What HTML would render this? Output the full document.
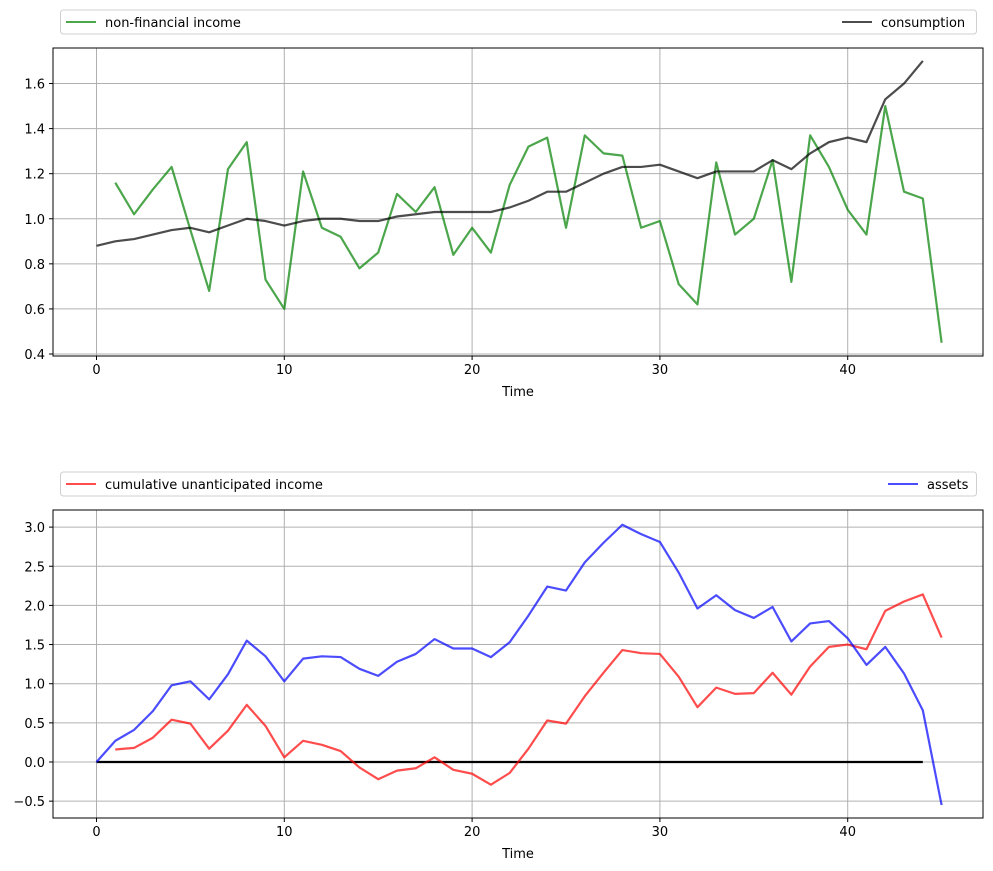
<!DOCTYPE html>
<html><head><meta charset="utf-8"><style>body{margin:0;background:#fff}svg{display:block}text{font-family:"DejaVu Sans","Liberation Sans",sans-serif;font-size:13px;fill:#000}</style></head>
<body>
<svg id="s" width="993" height="871" xmlns="http://www.w3.org/2000/svg"></svg>
<script>
const s=document.getElementById('s');let h='';
const X=t=>96.5+t*18.78;
function panel(top,bot,y0,yk,ys,ticks,fmt,series,leg,ly){
 const Y=v=>y0-v*yk;
 h+=`<g stroke="#b0b0b0" stroke-width="1">`;
 for(let t=0;t<=40;t+=10)h+=`<line x1="${X(t)}" y1="${top}" x2="${X(t)}" y2="${bot}"/>`;
 for(const v of ticks)h+=`<line x1="53" y1="${Y(v)}" x2="983" y2="${Y(v)}"/>`;
 h+=`</g>`;
 for(const sr of series){h+=`<polyline fill="none" stroke="${sr.c}" stroke-opacity="${sr.o}" stroke-width="2.2" stroke-linejoin="round" points="${sr.d.map((v,i)=>X(i+sr.s)+','+Y(v)).join(' ')}"/>`;}
 h+=`<rect x="53" y="${top}" width="930" height="${bot-top}" fill="none" stroke="#000" stroke-width="1"/>`;
 for(let t=0;t<=40;t+=10){h+=`<line x1="${X(t)}" y1="${bot}" x2="${X(t)}" y2="${bot+4}" stroke="#000"/><text x="${X(t)}" y="${bot+18}" text-anchor="middle">${t}</text>`;}
 for(const v of ticks){h+=`<line x1="49" y1="${Y(v)}" x2="53" y2="${Y(v)}" stroke="#000"/><text x="45" y="${Y(v)+5}" text-anchor="end">${fmt(v)}</text>`;}
 h+=`<text x="518" y="${bot+40}" text-anchor="middle">Time</text>`;
 h+=`<rect x="60.5" y="${ly}" width="916" height="24" rx="3" fill="#fff" stroke="#d0d0d0"/>`;
 h+=`<line x1="66" y1="${ly+12}" x2="96" y2="${ly+12}" stroke="${leg[0][1]}" stroke-opacity="0.7" stroke-width="2"/><text x="105" y="${ly+17}">${leg[0][0]}</text>`;
 h+=`<line x1="${leg[1][2]-39}" y1="${ly+12}" x2="${leg[1][2]-9}" y2="${ly+12}" stroke="${leg[1][1]}" stroke-opacity="0.7" stroke-width="2"/><text x="${leg[1][2]}" y="${ly+17}">${leg[1][0]}</text>`;
}
const inc=[1.16,1.02,1.13,1.23,0.95,0.68,1.22,1.34,0.73,0.60,1.21,0.96,0.92,0.78,0.85,1.11,1.03,1.14,0.84,0.96,0.85,1.15,1.32,1.36,0.96,1.37,1.29,1.28,0.96,0.99,0.71,0.62,1.25,0.93,1.00,1.26,0.72,1.37,1.23,1.04,0.93,1.50,1.12,1.09,0.45];
const con=[0.88,0.90,0.91,0.93,0.95,0.96,0.94,0.97,1.00,0.99,0.97,0.99,1.00,1.00,0.99,0.99,1.01,1.02,1.03,1.03,1.03,1.03,1.05,1.08,1.12,1.12,1.16,1.20,1.23,1.23,1.24,1.21,1.18,1.21,1.21,1.21,1.26,1.22,1.29,1.34,1.36,1.34,1.53,1.60,1.70];
const cum=[0.16,0.18,0.31,0.54,0.49,0.17,0.40,0.73,0.46,0.06,0.27,0.22,0.14,-0.07,-0.22,-0.11,-0.08,0.06,-0.10,-0.15,-0.29,-0.14,0.17,0.53,0.49,0.84,1.14,1.43,1.39,1.38,1.09,0.70,0.95,0.87,0.88,1.14,0.86,1.22,1.47,1.50,1.44,1.93,2.05,2.14,1.59];
const ast=[0,0.27,0.41,0.65,0.98,1.03,0.80,1.12,1.55,1.35,1.03,1.32,1.35,1.34,1.19,1.10,1.28,1.38,1.57,1.45,1.45,1.34,1.53,1.87,2.24,2.19,2.55,2.80,3.03,2.91,2.81,2.42,1.96,2.13,1.94,1.84,1.98,1.54,1.77,1.80,1.58,1.24,1.47,1.13,0.66,-0.55];
const f=v=>v.toFixed(1).replace('-','\u2212');
panel(48,356,354+0.4*225.4,225.4,0,[0.4,0.6,0.8,1.0,1.2,1.4,1.6],f,
 [{c:'green',o:0.7,d:inc,s:1},{c:'#000',o:0.7,d:con,s:0}],[['non-financial income','green'],['consumption','#000',881]],10);
panel(510,818,762,78.3,0,[-0.5,0,0.5,1,1.5,2,2.5,3],f,
 [{c:'#000',o:1,d:new Array(45).fill(0),s:0},{c:'red',o:0.7,d:cum,s:1},{c:'blue',o:0.7,d:ast,s:0}],[['cumulative unanticipated income','red'],['assets','blue',927]],472);
s.innerHTML=h;
</script>
</body></html>
